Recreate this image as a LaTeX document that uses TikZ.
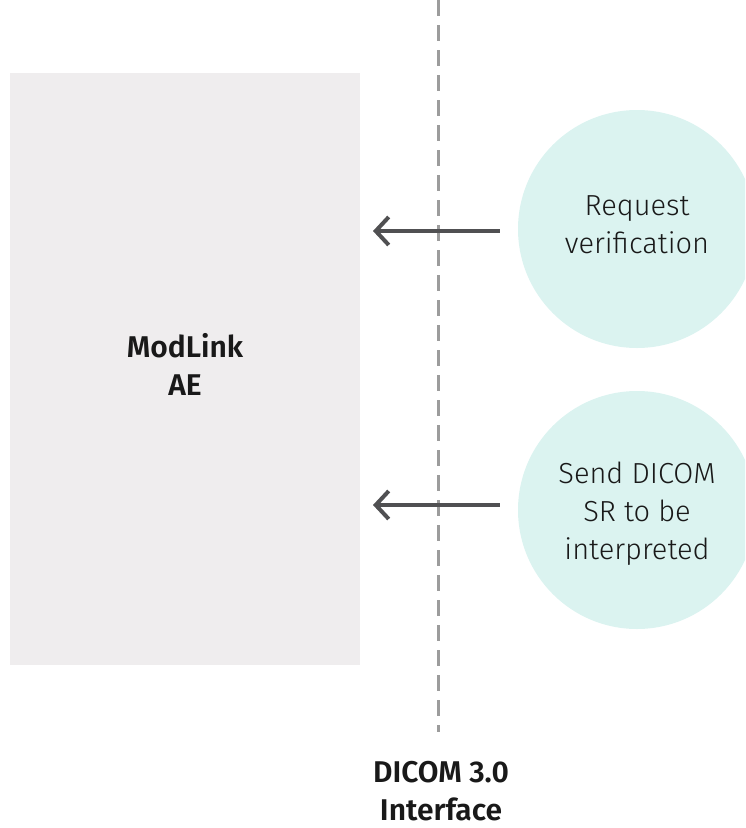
\documentclass[tikz,border=0pt]{standalone}
\usepackage{fontspec}
\setmainfont{Fira Sans Light}[BoldFont=Fira Sans SemiBold]
\usetikzlibrary{arrows.meta}
\definecolor{boxgray}{HTML}{EFEDEE}
\definecolor{tealbg}{HTML}{DBF3F0}
\definecolor{arrowgray}{HTML}{505052}
\definecolor{dashgray}{HTML}{9C9C9C}
\begin{document}
\begin{tikzpicture}[x=1pt, y=-1pt,
    every node/.style={font=\fontsize{29}{38}\selectfont, text=black!90, align=center},
    msg/.style={circle, fill=tealbg, minimum size=238pt, inner sep=0pt},
    heading/.style={font=\fontsize{30}{38}\selectfont\bfseries},
    flow/.style={-{Straight Barb[length=13pt, width=28pt, line width=4pt]}, line width=4pt, arrowgray}]
    \useasboundingbox (0,0) rectangle (745,828);
    \begin{scope}
        \clip (0,0) rectangle (745,828);
        \node[fill=boxgray, minimum width=350pt, minimum height=592pt, inner sep=0pt] (ae) at (185,369) {};
        \node[msg] (req) at (637,229) {};
        \node[msg] (send) at (637,510) {};
    \end{scope}
    \node[heading] (aelabel) at (ae.center) [yshift=5pt] {ModLink\\AE};
    \node (reqlabel) at (637,225) {Request\\verification};
    \node (sendlabel) at (637,514) {Send DICOM\\SR to be\\interpreted};
    \coordinate (top) at (438,0);
    \coordinate (bottom) at (438,732);
    \draw[dashgray, line width=3pt, dash pattern=on 16pt off 9pt] (top) -- (bottom);
    \coordinate (reqend) at (373,231);
    \coordinate (sendend) at (373,505);
    \draw[flow] (req.west |- reqend) ++(-18,0) coordinate (reqstart) (reqstart) -- (reqend);
    \draw[flow] (send.west |- sendend) ++(-18,0) coordinate (sendstart) (sendstart) -- (sendend);
    \node[heading, inner sep=0pt] (iface) at (441,791) {DICOM 3.0\\Interface};
\end{tikzpicture}
\end{document}
